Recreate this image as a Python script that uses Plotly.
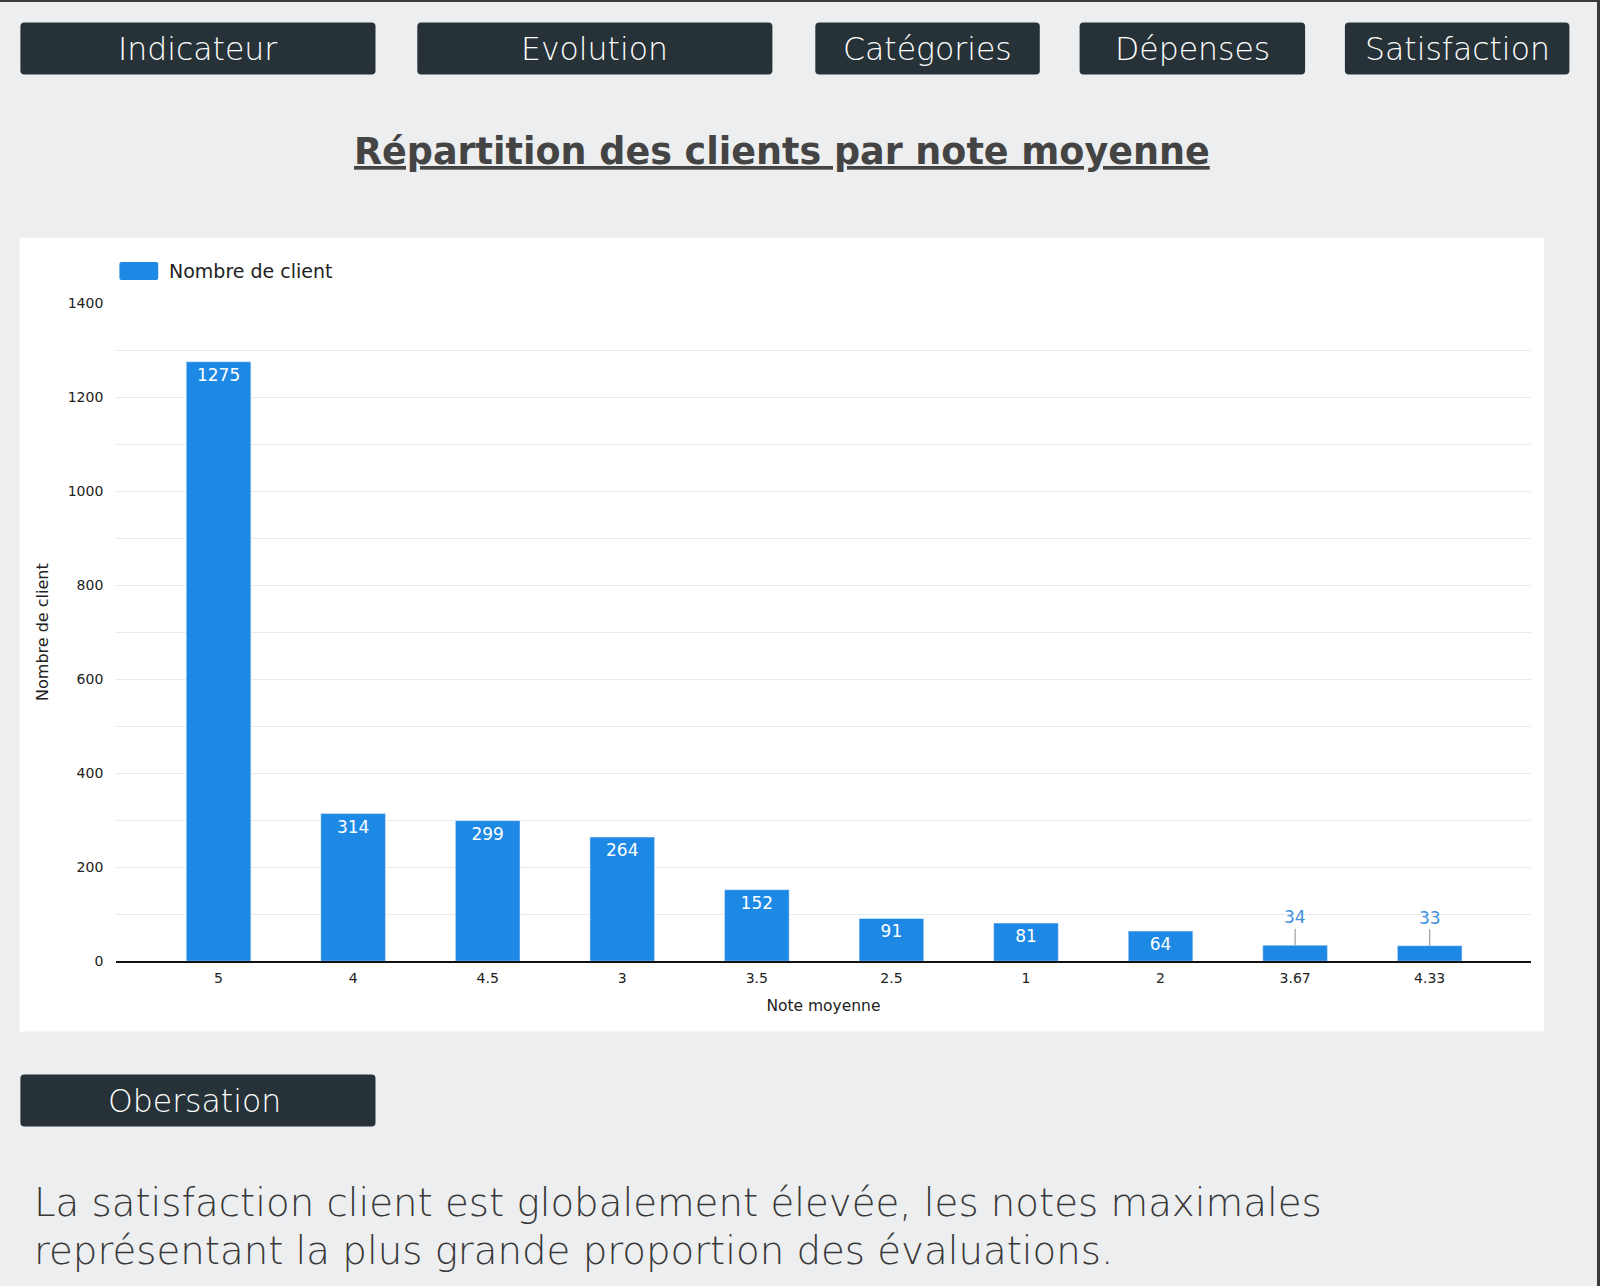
import plotly.graph_objects as go

# ---- data ----
notes = ["5", "4", "4.5", "3", "3.5", "2.5", "1", "2", "3.67", "4.33"]
clients = [1275, 314, 299, 264, 152, 91, 81, 64, 34, 33]
series_name = "Nombre de client"
nav_labels = ["Indicateur", "Evolution", "Catégories", "Dépenses", "Satisfaction"]
title_text = "Répartition des clients par note moyenne"
obs_label = "Obersation"
obs_text = ["La satisfaction client est globalement élevée, les notes maximales",
            "représentant la plus grande proportion des évaluations."]

W, H = 1600, 1286
BG = "#edeef0"
DARK = "#263238"
BLUE = "#1e88e5"
FONT = "DejaVu Sans"

def px(x):
    return x / W

def py(y):
    return 1 - y / H

def rounded_rect(x0, y0, x1, y1, r=4):
    """SVG path (paper units) for a rounded rectangle given in pixels."""
    pts = [
        ("M", x0 + r, y0), ("L", x1 - r, y0), ("Q", x1, y0, x1, y0 + r),
        ("L", x1, y1 - r), ("Q", x1, y1, x1 - r, y1), ("L", x0 + r, y1),
        ("Q", x0, y1, x0, y1 - r), ("L", x0, y0 + r), ("Q", x0, y0, x0 + r, y0),
    ]
    out = []
    for p in pts:
        cmd, vals = p[0], p[1:]
        coords = []
        for k in range(0, len(vals), 2):
            coords.append(f"{px(vals[k]):.6f},{py(vals[k + 1]):.6f}")
        out.append(cmd + " ".join(coords))
    return " ".join(out) + " Z"

# plot area in pixels
PL, PR, PT, PB = 116.3, 1530.6, 303.0, 961.2

small = [v < 50 for v in clients]
fig = go.Figure()
fig.add_trace(go.Bar(
    x=notes, y=clients, name=series_name, marker_color=BLUE, width=0.48,
    text=[str(v) for v in clients],
    textposition=["none" if s else "inside" for s in small],
    insidetextanchor="end",
    textfont=dict(color="white", size=17, family=FONT),
    showlegend=False,
))

shapes = []
annotations = []

# white chart panel
shapes.append(dict(type="rect", xref="paper", yref="paper", layer="below",
                   x0=px(19.4), x1=px(1544), y0=py(1031.6), y1=py(237.8),
                   fillcolor="white", line_width=0))

# nav buttons
btn_x = [(20.4, 375.5), (417.3, 772.4), (815.3, 1039.8), (1079.6, 1305.1), (1344.9, 1569.4)]
for lab, (x0, x1) in zip(nav_labels, btn_x):
    shapes.append(dict(type="path", xref="paper", yref="paper", layer="below",
                       path=rounded_rect(x0, 22.4, x1, 74.5),
                       fillcolor=DARK, line_width=0))
    annotations.append(dict(xref="paper", yref="paper", x=px((x0 + x1) / 2), y=py(48.5),
                            text=lab, showarrow=False, xanchor="center", yanchor="middle",
                            font=dict(family=FONT, size=31.5, color="white", weight=300)))

# title
annotations.append(dict(xref="paper", yref="paper", x=px(782), y=py(151),
                        text="<b><u>" + title_text + "</u></b>", showarrow=False,
                        xanchor="center", yanchor="middle",
                        font=dict(family=FONT, size=36.5, color="#444444")))

# legend (drawn)
shapes.append(dict(type="path", xref="paper", yref="paper",
                   path=rounded_rect(119.4, 262, 158.2, 280, r=2),
                   fillcolor=BLUE, line_width=0))
annotations.append(dict(xref="paper", yref="paper", x=px(167), y=py(271),
                        text=series_name, showarrow=False, xanchor="left", yanchor="middle",
                        font=dict(family=FONT, size=19, color="#222222")))

# outside labels with leader lines for small bars
for i, (v, s) in enumerate(zip(clients, small)):
    if s:
        annotations.append(dict(x=i, y=v, xref="x", yref="y", text=str(v),
                                showarrow=True, arrowhead=0, arrowwidth=1.2,
                                arrowcolor="#9e9e9e", ax=0, ay=-28, standoff=0,
                                font=dict(family=FONT, size=17, color="#3f8fe0")))

# observation button
shapes.append(dict(type="path", xref="paper", yref="paper", layer="below",
                   path=rounded_rect(20.4, 1074.5, 375.5, 1126.5),
                   fillcolor=DARK, line_width=0))
annotations.append(dict(xref="paper", yref="paper", x=px(194), y=py(1100.5),
                        text=obs_label, showarrow=False, xanchor="center", yanchor="middle",
                        font=dict(family=FONT, size=31.5, color="white", weight=300)))

# observation paragraph
for i, line in enumerate(obs_text):
    annotations.append(dict(xref="paper", yref="paper", x=px(31.6), y=py(1202 + 48 * i),
                            text=line, showarrow=False, xanchor="left", yanchor="middle",
                            font=dict(family=FONT, size=38.7, color="#383838", weight=300)))

# frame lines (top and right)
shapes.append(dict(type="rect", xref="paper", yref="paper",
                   x0=0, x1=1, y0=py(2), y1=1, fillcolor="#3a3a3a", line_width=0))
shapes.append(dict(type="rect", xref="paper", yref="paper",
                   x0=px(1597), x1=1, y0=0, y1=1, fillcolor="#3a3a3a", line_width=0))

fig.update_layout(
    width=W, height=H,
    margin=dict(l=0, r=0, t=0, b=0),
    paper_bgcolor=BG, plot_bgcolor="white",
    font=dict(family=FONT, color="#222222"),
    shapes=shapes, annotations=annotations,
    xaxis=dict(domain=[px(PL), px(PR)], type="category", range=[-0.76, 9.75],
               showline=True, linecolor="#111111", linewidth=1.5,
               showgrid=False, ticks="", ticklabelstandoff=3,
               tickfont=dict(size=14, color="#222222"),
               title=dict(text="Note moyenne", font=dict(size=15.5, color="#222222")),
               automargin=False),
    yaxis=dict(domain=[py(PB), py(PT)], range=[0, 1400], dtick=200,
               showgrid=True, gridcolor="#ebebeb", gridwidth=1,
               minor=dict(dtick=100, showgrid=True, gridcolor="#ebebeb", gridwidth=1),
               zeroline=False, ticks="", ticklabelstandoff=12,
               tickfont=dict(size=14, color="#222222"),
               title=dict(text="Nombre de client", font=dict(size=16, color="#222222")),
               automargin=False),
)

fig.write_html("out.html")
